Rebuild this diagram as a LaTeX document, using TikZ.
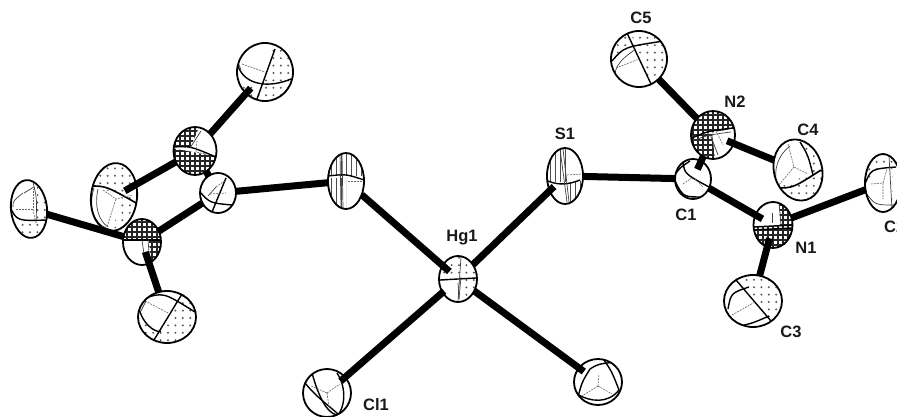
\documentclass[tikz,border=0pt]{standalone}
\usepackage{fontspec}
\setmainfont{Liberation Sans}
\usetikzlibrary{shapes.geometric}
\tikzset{
  bond/.style={line width=7pt,line cap=butt,black},
  major/.style={line width=1.4pt,black},
  minor/.style={line width=.7pt,black!75},
  axisline/.style={line width=.6pt,black!60,dash pattern=on 2pt off 1pt},
  outline/.style={line width=1.8pt,black},
  lab/.style={font=\fontsize{16.5}{16.5}\selectfont\bfseries,inner sep=0pt,text=black!90},
  atomnode/.style={ellipse,inner sep=0pt,outer sep=0pt}
}
\newcommand\atomdef[6]{%
  \node[atomnode,minimum width=2*#4,minimum height=2*#5,rotate=#6] (#1) at (#2,#3) {};
  \expandafter\def\csname rx#1\endcsname{#4}%
  \expandafter\def\csname ry#1\endcsname{#5}%
  \expandafter\def\csname th#1\endcsname{#6}%
}
\newcommand\paint[2]{%
  \begin{scope}[shift={(#1.center)}]
    \path[fill=white,rotate=\csname th#1\endcsname] (0,0) ellipse[x radius=\csname rx#1\endcsname,y radius=\csname ry#1\endcsname];
    \begin{scope}
      \clip[rotate=\csname th#1\endcsname] (0,0) ellipse[x radius=\csname rx#1\endcsname,y radius=\csname ry#1\endcsname];
      #2
    \end{scope}
    \draw[outline,rotate=\csname th#1\endcsname] (0,0) ellipse[x radius=\csname rx#1\endcsname,y radius=\csname ry#1\endcsname];
  \end{scope}}
\newcommand\dotsin[1]{\begin{scope}\clip #1;
  \foreach \i in {-6,...,6}\foreach \j in {-6,...,6}{\fill[black!65] (\i*7.4+1,\j*7.4+1) circle[radius=1.1];}
  \end{scope}}
\newcommand\hatchin[1]{\begin{scope}\clip #1;
  \foreach \i in {-8,...,8}{\draw[line width=1.15pt,black!85] (\i*5,-40) -- (\i*5,40); \draw[line width=1.15pt,black!85] (-40,\i*5) -- (40,\i*5);}
  \end{scope}}
\newcommand\stripesin[1]{\begin{scope}\clip #1;
  \foreach \i in {-8,...,8}{\draw[line width=.9pt,black!70] (\i*5,-40) -- (\i*5,40);}
  \end{scope}}
\begin{document}
\begin{tikzpicture}[x=1pt,y=-1pt]
\useasboundingbox[fill=white] (0,0) rectangle (897,417);
% geometry
\atomdef{Lfive}{265}{72}{28}{29}{0}
\atomdef{Ltwo}{195}{151}{21.5}{24}{0}
\atomdef{Lcone}{218}{193}{18}{20}{0}
\atomdef{Lfour}{114}{197}{23}{34}{-6}
\atomdef{Ltwoc}{29}{209}{18}{29}{6}
\atomdef{Lnone}{142}{242}{19}{23}{0}
\atomdef{Lthree}{167}{317}{29}{26}{0}
\atomdef{Ls}{346}{181}{18}{28}{0}
\atomdef{Hg}{458}{279}{19}{23}{0}
\atomdef{Sone}{565}{176}{18}{28}{0}
\atomdef{Clone}{327}{393}{24}{24}{0}
\atomdef{Cltwo}{598}{382}{24}{23}{0}
\atomdef{Cfive}{639}{59}{28}{28}{0}
\atomdef{Ntwo}{713}{135}{22}{24}{0}
\atomdef{Cfour}{798}{170}{24}{31}{15}
\atomdef{Cone}{693}{179}{18}{20}{0}
\atomdef{None}{773}{225}{19.5}{23}{0}
\atomdef{Ctwo}{883}{183}{18}{29}{0}
\atomdef{Cthree}{753}{301}{29}{26}{0}

% ---- left ligand
\paint{Lfour}{
  \dotsin{(-30,-40) -- (30,-40) -- (30,8) -- (10,-1) -- (-24,-12) -- cycle}
  \dotsin{(3,0) -- (30,8) -- (30,40) -- (0,40) -- cycle}
  \draw[major,line width=1.6pt] (-24,-11) .. controls (-8,-11) .. (24,7);
  \draw[minor] (-20,-9) .. controls (-26,10) and (-20,26) .. (-8,31);
  \draw[minor] (-16,-8) .. controls (-20,10) and (-15,24) .. (-6,30);
  \draw[axisline] (-11,-7) -- (2,2) -- (18,-2);
  \draw[axisline] (2,2) -- (-7,30);
}
\draw[bond,shorten >=-13pt] (Ltwo) -- (Lfour);
\paint{Ltwo}{
  \hatchin{(-24,-26) -- (5,-26) -- (-5,-3) -- (-24,-5) -- cycle}
  \hatchin{(-24,-3) -- (24,6) -- (24,26) -- (-24,26) -- cycle}
  \draw[major] (-21,-4) .. controls (-5,-5) .. (21,6);
  \draw[minor] (6,-20) -- (-5,-3);
  \draw[axisline] (2,-10) -- (1,1) -- (10,3);
}
\paint{Lfive}{
  \dotsin{(10,-30) -- (30,-30) -- (30,10) -- (-3,13) -- cycle}
  \dotsin{(-30,6) -- (-14,13) -- (-8,16) -- (-9,30) -- (-30,30) -- cycle}
  \dotsin{(-3,14) -- (30,8) -- (30,30) -- (-8,30) -- cycle}
  \draw[major] (10,-23) -- (-8,27);
  \draw[major] (-27,-6) .. controls (-20,14) and (5,16) .. (26,7);
  \draw[minor] (-27,-10) -- (-24,-2);
  \draw[axisline] (-23,-8) -- (0,0);
}
\draw[bond,shorten >=-7pt] (Ltwo) -- (Lfive);
\draw[bond,shorten <=-16pt] (Lcone) -- (Ltwo);
\paint{Lcone}{
  \draw[major] (-18,-1) .. controls (-8,10) .. (14,12);
  \draw[major] (8,-15) -- (-6,19);
  \draw[minor] (-2,-6) -- (-10,3);
  \draw[axisline] (-2,-6) -- (8,-13);
  \draw[axisline] (-8,1) -- (8,0);
}
\paint{Lthree}{
  \dotsin{(15,-28) -- (32,-28) -- (32,6) -- (0,6) -- cycle}
  \dotsin{(-2,6) -- (32,6) -- (32,30) -- (-15,30) -- cycle}
  \dotsin{(-30,-8) -- (-20,6) -- (-10,12) -- (-14,30) -- (-30,30) -- cycle}
  \draw[major] (15,-23) -- (-13,23);
  \draw[major] (-28,-8) .. controls (-22,12) and (-8,16) .. (-6,14);
  \draw[major] (-24,-18) .. controls (-4,-25) .. (28,-5);
  \draw[minor] (-26,-6) -- (-21,-16);
  \draw[axisline] (-22,-16) -- (5,-2);
}
\paint{Lnone}{
  \hatchin{(-21,-25) -- (21,-25) -- (21,-2) -- (-21,-2) -- cycle}
  \hatchin{(7,-2) -- (21,-2) -- (21,20) -- (9,24) -- cycle}
  \draw[major] (-19,-2) -- (19,-2);
  \draw[minor] (0,-2) -- (2,12);
  \draw[minor] (6,-2) -- (8,22);
}
\draw[bond,shorten <=-12pt] (Lnone) -- (Lthree);
\draw[bond] (Lcone) -- (Lnone);
\paint{Ltwoc}{
  \dotsin{(8,-30) -- (22,-30) -- (22,10) -- (8,12) -- cycle}
  \dotsin{(-20,12) -- (22,12) -- (22,32) -- (-20,32) -- cycle}
  \draw[major] (-19,-2) .. controls (-12,12) .. (18,11);
  \draw[minor] (4,-27) .. controls (8,-10) .. (7,14);
  \draw[minor] (-6,-16) .. controls (-16,-8) .. (-16,-2);
  \draw[minor] (-5,-16) -- (5,-22);
  \draw[axisline] (-13,0) -- (4,0) -- (4,-20);
  \draw[axisline] (4,0) -- (6,11);
}
\draw[bond] (Ltwoc) -- (Lnone);
\draw[bond] (Lcone) -- (Ls);

% ---- centre
\paint{Ls}{
  \stripesin{(-20,-30) -- (20,-30) -- (20,-6) -- (-20,-6) -- cycle}
  \stripesin{(-20,-3) -- (0,-3) -- (0,30) -- (-20,30) -- cycle}
  \draw[major] (-18,-5) .. controls (0,-7) .. (18,-1);
  \draw[minor] (-4,-28) -- (-3,27);
  \draw[minor] (-6,-28) -- (-5,27);
  \draw[axisline] (2,0) -- (16,0);
}
\paint{Sone}{
  \stripesin{(-20,-30) -- (4,-30) -- (4,5) -- (-20,5) -- cycle}
  \stripesin{(2,7) -- (20,4) -- (20,30) -- (2,30) -- cycle}
  \draw[major] (-17,5) .. controls (-5,10) and (5,8) .. (15,4);
  \draw[minor] (-5,-27) -- (2,26);
  \draw[minor] (-2,-27) -- (4,26);
  \draw[axisline] (2,-1) -- (18,-2);
}
\paint{Hg}{
  \dotsin{(-20,-25) -- (20,-25) -- (20,-2) -- (-20,2) -- cycle}
  \dotsin{(3,-2) -- (20,-2) -- (20,25) -- (2,25) -- cycle}
  \draw[major] (-18,1) -- (18,-1);
  \draw[minor] (3,-22) -- (0,22);
  \draw[minor] (3,-2) -- (1,20);
  \draw[minor] (0,4) -- (1,20);
}
\paint{Clone}{
  \draw[major] (-22,-10) .. controls (-10,5) and (5,15) .. (12,22);
  \draw[major] (-15,-20) .. controls (-8,5) and (0,20) .. (10,22);
  \draw[major] (10,-20) .. controls (20,-5) and (18,15) .. (10,23);
  \draw[axisline] (0,0) -- (-16,-7);
  \draw[axisline] (0,0) -- (13,-9);
  \draw[axisline] (0,0) -- (2,14);
}
\paint{Cltwo}{
  \draw[major] (-8,-13) .. controls (-16,0) .. (-20,15);
  \draw[major] (6,-22) .. controls (14,-10) .. (21,8);
  \draw[major] (-8,-13) .. controls (0,-18) .. (18,-20);
  \draw[major] (-21,12) .. controls (-8,20) and (10,22) .. (21,8);
  \draw[axisline] (0,4) -- (-16,14);
  \draw[axisline] (0,4) -- (1,-8);
  \draw[axisline] (0,4) -- (14,12);
}
\draw[bond,shorten <=-6pt] (Cltwo) -- (Hg);
\draw[bond,shorten <=-6pt,shorten >=-2pt] (Clone) -- (Hg);
\draw[bond,shorten <=-6pt] (Sone) -- (Hg);
\draw[bond,shorten >=-9pt] (Ls) -- (Hg);
\draw[bond] (Sone) -- (Cone);

% ---- right ligand
\paint{Cfive}{
  \dotsin{(-11,-30) -- (30,-30) -- (30,30) -- (12,30) -- (-2,-13) -- cycle}
  \dotsin{(-30,-30) -- (-11,-30) -- (-4,-14) -- (-30,-2) -- cycle}
  \draw[major] (-12,-26) -- (12,25);
  \draw[major] (-27,2) .. controls (-15,-12) .. (25,-18);
  \draw[minor] (-24,16) .. controls (-24,6) and (-15,-2) .. (-3,-10);
  \draw[axisline] (-23,9) -- (0,0);
}
\paint{Cfour}{
  \dotsin{(-24,20) -- (24,-2) -- (30,40) -- (-20,40) -- cycle}
  \dotsin{(6,-30) -- (30,-30) -- (30,-2) -- (12,6) -- cycle}
  \draw[major,line width=1.6pt] (-22,18) .. controls (-5,18) .. (23,0);
  \draw[major] (2,-28) .. controls (10,-15) .. (15,5);
  \draw[minor] (-21,15) .. controls (-25,0) and (-20,-15) .. (-8,-24);
  \draw[axisline] (-10,-26) -- (-4,-3) -- (10,4);
  \draw[axisline] (-4,-3) -- (-20,16);
}
\paint{Ntwo}{
  \hatchin{(-24,2) -- (22,-7) -- (22,-26) -- (-24,-26) -- cycle}
  \hatchin{(-24,2) -- (-1,-2) -- (2,24) -- (-24,24) -- cycle}
  \draw[major] (-21,3) .. controls (-5,-4) .. (20,-7);
  \draw[minor] (-21,6) .. controls (-5,0) .. (18,-3);
  \draw[minor] (-3,-1) -- (5,20);
  \draw[axisline] (3,-4) -- (10,10);
}
\draw[bond,shorten <=-7pt] (Ntwo) -- (Cfour);
\paint{Cone}{
  \draw[major] (-17,-6) .. controls (-12,-12) .. (-3,-18);
  \draw[major] (-18,2) .. controls (-10,18) .. (10,18);
  \draw[major] (-10,-16) .. controls (-8,-5) .. (16,8);
  \draw[axisline] (-10,5) -- (0,-2) -- (10,8);
}
\draw[bond,shorten >=-9pt] (Ntwo) -- (Cone);
\draw[bond] (Cfive) -- (Ntwo);
\paint{Cthree}{
  \dotsin{(-16,-30) -- (32,-30) -- (32,30) -- (17,20) -- cycle}
  \draw[major] (-17,-21) -- (18,20);
  \draw[major] (-25,8) .. controls (-22,-8) .. (-4,-14);
  \draw[major] (-13,25) .. controls (0,22) .. (16,15);
  \draw[minor] (-27,10) .. controls (-20,20) .. (-13,24);
  \draw[axisline] (-21,14) -- (2,1);
}
\paint{None}{
  \hatchin{(-22,2) -- (22,0) -- (22,26) -- (-22,26) -- cycle}
  \hatchin{(6,-25) -- (22,-25) -- (22,0) -- (7,0) -- cycle}
  \draw[major] (-20,2) -- (20,0);
  \draw[major] (-19,5) -- (19,3);
  \draw[minor] (-1,-12) -- (-1,-2);
  \draw[minor] (6,-23) -- (8,0);
}
\draw[bond,shorten >=-8pt] (Cone) -- (None);
\draw[bond,shorten <=-9pt] (None) -- (Cthree);
\paint{Ctwo}{
  \dotsin{(-20,-30) -- (25,-30) -- (25,-14) -- (0,-14) -- (-17,-2) -- cycle}
  \dotsin{(9,-14) -- (25,-14) -- (25,30) -- (9,30) -- cycle}
  \draw[major] (-18,1) .. controls (-12,-14) .. (13,-16);
  \draw[minor] (-17,10) .. controls (-8,22) .. (12,22);
  \draw[minor] (6,-27) -- (9,26);
  \draw[axisline] (-12,1) -- (0,0) -- (0,16);
  \draw[axisline] (0,0) -- (4,-14);
}
\draw[bond] (None) -- (Ctwo);

% ---- labels
\node[lab] (tCfive) at (641,18) {C5};
\node[lab] (tNtwo) at (735,102) {N2};
\node[lab] (tCfour) at (808,130) {C4};
\node[lab] (tCone) at (686,215) {C1};
\node[lab] (tNone) at (806,248) {N1};
\node[lab,anchor=west] (tCtwo) at (884,227) {C2};
\node[lab] (tCthree) at (791,332) {C3};
\node[lab] (tHg) at (462,238) {Hg1};
\node[lab] (tS) at (565,134) {S1};
\node[lab] (tCl) at (376,405) {Cl1};
\end{tikzpicture}
\end{document}
